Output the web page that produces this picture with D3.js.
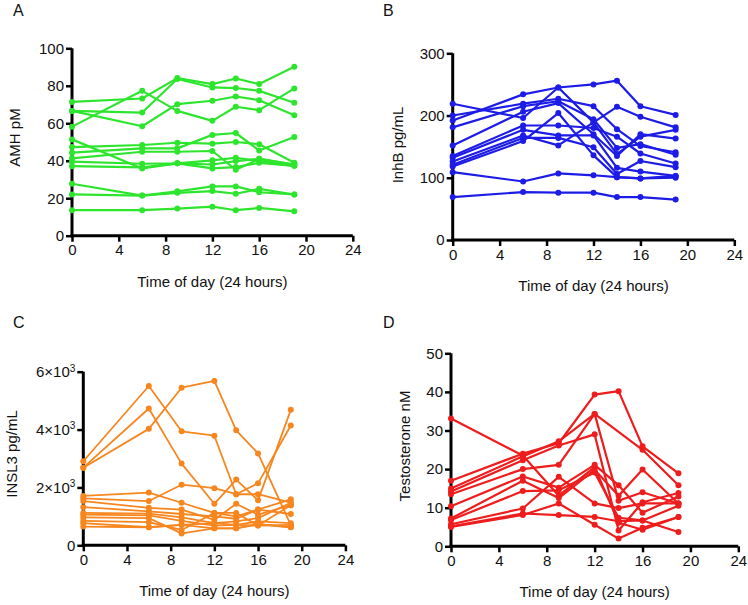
<!DOCTYPE html>
<html><head><meta charset="utf-8">
<script src="https://cdn.jsdelivr.net/npm/d3@7"></script>
<style>
body{margin:0;background:#fff;}
svg{display:block;font-family:"Liberation Sans",Arial,sans-serif;}
</style></head><body>
<svg id="c" width="748" height="605"></svg>
<script>
// ---- data ----
const times = [0, 6, 9, 12, 14, 16, 19];
const xTicks = [0, 4, 8, 12, 16, 20, 24];
const amhTicks = [0, 20, 40, 60, 80, 100];
const inhbTicks = [0, 100, 200, 300];
const insl3Ticks = [0, 2000, 4000, 6000];
const testoTicks = [0, 10, 20, 30, 40, 50];

const amh = [
  [71.4, 73.2, 84.1, 80.9, 83.9, 80.9, 90.2],
  [66.6, 65.7, 83.6, 79.1, 78.8, 77.3, 70.9],
  [66.6, 58.4, 70.2, 72.0, 74.3, 72.3, 64.3],
  [58.2, 77.3, 66.6, 61.3, 68.8, 67.0, 78.6],
  [51.4, 35.9, 38.6, 38.0, 39.8, 41.0, 38.0],
  [47.3, 48.4, 49.6, 49.1, 50.0, 48.8, 38.9],
  [44.3, 46.6, 46.6, 53.8, 54.8, 45.5, 52.7],
  [41.3, 44.8, 44.8, 45.2, 35.2, 41.0, 38.0],
  [39.5, 38.4, 38.6, 40.2, 41.6, 39.8, 37.3],
  [37.1, 36.5, 38.6, 35.9, 36.6, 38.9, 37.3],
  [27.7, 21.4, 23.7, 26.3, 26.3, 23.2, 22.0],
  [22.0, 21.4, 22.9, 23.8, 22.4, 25.0, 22.0],
  [13.6, 13.6, 14.5, 15.5, 13.6, 14.8, 13.0]
];
const inhb = [
  [192, 234, 245, 250, 256, 215, 201],
  [219, 196, 245, 189, 138, 166, 177],
  [200, 219, 227, 215, 178, 151, 141],
  [181, 215, 223, 194, 148, 154, 137],
  [152, 206, 220, 170, 135, 170, 163],
  [135, 184, 184, 180, 166, 139, 123],
  [132, 177, 168, 168, 116, 110, 103],
  [126, 168, 152, 189, 214, 198, 181],
  [121, 164, 164, 149, 106, 127, 117],
  [118, 159, 204, 136, 101, 99, 100],
  [109, 94, 107, 104, 101, 99, 103],
  [69, 77, 76, 76, 69, 69, 65]
];
const insl3 = [
  [2682, 4024, 5447, 5682, 3976, 3176, 700],
  [2906, 5506, 3941, 3788, 1765, 2141, 4141],
  [2682, 4729, 2824, 1435, 2271, 1553, 4682],
  [1706, 1824, 1471, 1118, 1000, 1235, 1588],
  [1624, 1529, 2094, 1976, 1765, 1765, 1471],
  [1529, 1294, 1235, 882, 1435, 1059, 1388],
  [1318, 1176, 1082, 1000, 918, 1235, 1082],
  [1118, 1094, 965, 765, 824, 941, 1471],
  [1059, 1035, 847, 682, 706, 824, 765],
  [965, 941, 412, 588, 588, 729, 624],
  [847, 800, 529, 1118, 1118, 682, 1388],
  [765, 624, 706, 765, 706, 682, 706],
  [647, 624, 706, 588, 588, 729, 624]
];
const testo = [
  [33.1, 23.5, 13.1, 20.5, 6.1, 4.3, 7.6],
  [17.0, 24.0, 26.7, 39.3, 40.2, 25.9, 18.9],
  [15.0, 23.3, 27.2, 34.3, null, 25.0, 15.8],
  [14.2, 22.3, 26.1, 29.0, 4.1, 11.4, 13.8],
  [13.5, 20.0, 21.1, 34.3, 11.8, 14.0, 11.1],
  [10.4, 18.1, 15.2, 21.1, 15.8, 8.7, 12.9],
  [7.2, 17.0, 12.5, 19.8, 13.1, 19.9, 11.1],
  [6.8, 14.3, 14.5, 19.1, 7.4, 6.7, 10.5],
  [5.7, 9.8, 18.0, 11.1, 9.9, 11.1, 11.1],
  [5.2, 8.5, 8.1, 7.6, 6.5, 6.7, 3.7],
  [5.0, 8.1, 11.1, 5.6, 2.0, 4.8, 7.6]
];

// ---- layout ----
const svg = d3.select("#c");
const panels = [
  {letter:"A", lx:13, ly:16, series:amh, yTicks:amhTicks, ymax:100, color:"#2ee52e",
   xr:[72, 352.8], yr:[235.7, 48.3], ytitle:"AMH pM", ytx:20, yty:137.5, sw:2.2, r:3},
  {letter:"B", lx:383, ly:16, series:inhb, yTicks:inhbTicks, ymax:300, color:"#1c1ce6",
   xr:[452.7, 734.3], yr:[240, 53.3], ytitle:"InhB pg/mL", ytx:403, yty:145, sw:2.2, r:3},
  {letter:"C", lx:13, ly:328, series:insl3, yTicks:insl3Ticks, ymax:6000, color:"#f7861f",
   xr:[83.3, 345.4], yr:[545.3, 371.7], ytitle:"INSL3 pg/mL", ytx:17, yty:454, sw:1.8, r:3, sci:true},
  {letter:"D", lx:383, ly:328, series:testo, yTicks:testoTicks, ymax:50, color:"#ee1c1c",
   xr:[451, 738.3], yr:[546.3, 353.3], ytitle:"Testosterone nM", ytx:410, yty:446, sw:2.2, r:3}
];

panels.forEach(p => {
  const x = d3.scaleLinear().domain([0, 24]).range(p.xr);
  const y = d3.scaleLinear().domain([0, p.ymax]).range(p.yr);
  const g = svg.append("g");

  g.append("text").attr("x", p.lx).attr("y", p.ly).attr("font-size", 16).attr("fill", "#111").text(p.letter);

  // axes
  const xa = g.append("g").attr("transform", `translate(0,${p.yr[0]})`)
    .call(d3.axisBottom(x).tickValues(xTicks).tickSize(6).tickSizeOuter(0).tickPadding(3).tickFormat(d3.format("d")));
  const ya = g.append("g").attr("transform", `translate(${p.xr[0]},0)`)
    .call(d3.axisLeft(y).tickValues(p.yTicks).tickSize(6).tickSizeOuter(0).tickPadding(2)
      .tickFormat(d => p.sci ? (d === 0 ? "0" : "") : d3.format("d")(d)));
  [xa, ya].forEach(a => {
    a.select(".domain").attr("stroke", "#000").attr("stroke-width", 3);
    a.selectAll(".tick line").attr("stroke", "#000").attr("stroke-width", 2.5);
    a.selectAll(".tick text").attr("font-size", 15).attr("fill", "#111")
      .attr("font-family", "'Liberation Sans', Arial, sans-serif");
  });
  // extend domains to meet at corner
  xa.select(".domain").attr("d", `M${p.xr[0]-1.5},0H${p.xr[1]}`);
  ya.select(".domain").attr("d", `M0,${p.yr[0]+1.5}V${p.yr[1]}`);
  if (p.sci) {
    ya.selectAll(".tick text").each(function(d) {
      if (d === 0) return;
      const t = d3.select(this).text("");
      t.append("tspan").text((d / 1000) + "\u00d710");
      t.append("tspan").attr("font-size", 10).attr("dy", "-0.55em").text("3");
    });
  }

  // titles
  g.append("text").attr("x", (p.xr[0] + p.xr[1]) / 2).attr("y", p.yr[0] + 51)
    .attr("text-anchor", "middle").attr("font-size", 15).attr("fill", "#111").text("Time of day (24 hours)");
  g.append("text").attr("transform", `translate(${p.ytx},${p.yty}) rotate(-90)`)
    .attr("text-anchor", "middle").attr("font-size", 15).attr("fill", "#111").text(p.ytitle);

  // data
  const line = d3.line().x(d => x(d[0])).y(d => y(d[1]));
  p.series.forEach(s => {
    const pts = times.map((t, i) => [t, s[i]]).filter(d => d[1] != null);
    g.append("path").attr("d", line(pts)).attr("fill", "none")
      .attr("stroke", p.color).attr("stroke-width", p.sw).attr("stroke-linejoin", "round");
    g.selectAll(null).data(pts).enter().append("circle")
      .attr("cx", d => x(d[0])).attr("cy", d => y(d[1])).attr("r", p.r).attr("fill", p.color);
  });
});
</script>
</body></html>
